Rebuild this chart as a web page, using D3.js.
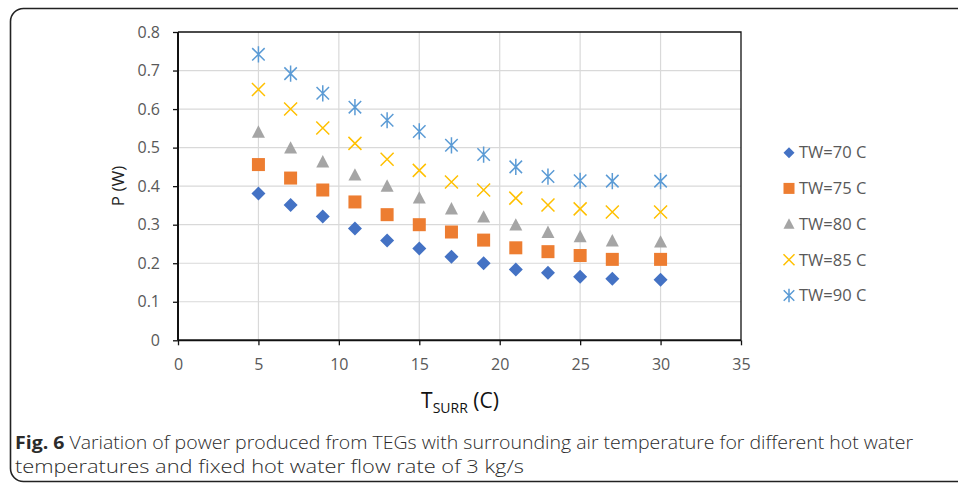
<!DOCTYPE html>
<html><head><meta charset="utf-8">
<script src="https://cdn.jsdelivr.net/npm/d3@7"></script>
<style>body{margin:0;background:#fff}svg{display:block}</style>
</head><body>
<script>
const xValues = [5,7,9,11,13,15,17,19,21,23,25,27,30];
const tw70 = [0.381,0.351,0.321,0.290,0.259,0.238,0.217,0.200,0.184,0.175,0.165,0.160,0.157];
const tw75 = [0.456,0.421,0.390,0.359,0.326,0.300,0.281,0.260,0.240,0.230,0.220,0.210,0.210];
const tw80 = [0.540,0.499,0.463,0.429,0.400,0.369,0.341,0.320,0.299,0.280,0.269,0.258,0.255];
const tw85 = [0.651,0.600,0.551,0.511,0.470,0.441,0.411,0.390,0.369,0.351,0.341,0.333,0.333];
const tw90 = [0.742,0.692,0.641,0.605,0.571,0.542,0.506,0.482,0.450,0.425,0.414,0.413,0.413];
const seriesNames = ["TW=70 C","TW=75 C","TW=80 C","TW=85 C","TW=90 C"];
const xTicks = [0,5,10,15,20,25,30,35];
const yTicks = [0,0.1,0.2,0.3,0.4,0.5,0.6,0.7,0.8];

(function(){
const series = [
  {name: seriesNames[0], values: tw70, shape: "diamond", color: "#4472C4"},
  {name: seriesNames[1], values: tw75, shape: "square", color: "#ED7D31"},
  {name: seriesNames[2], values: tw80, shape: "triangle", color: "#A5A5A5"},
  {name: seriesNames[3], values: tw85, shape: "x", color: "#FFC000"},
  {name: seriesNames[4], values: tw90, shape: "star", color: "#5B9BD5"}
];

const W = 958, H = 484;
const svg = d3.select("body").append("svg").attr("width", W).attr("height", H);
const font = "'Open Sans', 'Noto Sans', sans-serif";

// frame
svg.append("rect").attr("x", 10.5).attr("y", 8.5).attr("width", 1000).attr("height", 473)
  .attr("rx", 13).attr("fill", "none").attr("stroke", "#222").attr("stroke-width", 1.6);

const pL = 178, pR = 741, pT = 32, pB = 340.3;
const x = d3.scaleLinear().domain([0,35]).range([pL, pR]);
const y = d3.scaleLinear().domain([0,0.8]).range([pB, pT]);

// gridlines
svg.append("g").selectAll("line").data(xTicks.slice(1,-1)).join("line")
  .attr("x1", d => x(d)).attr("x2", d => x(d)).attr("y1", pT).attr("y2", pB)
  .attr("stroke", "#d9d9d9").attr("stroke-width", 1.2);
svg.append("g").selectAll("line").data(yTicks.slice(1,-1)).join("line")
  .attr("x1", pL).attr("x2", pR).attr("y1", d => y(d)).attr("y2", d => y(d))
  .attr("stroke", "#d9d9d9").attr("stroke-width", 1.2);

// plot border (top/right)
svg.append("path").attr("d", `M${pL},${pT}H${pR}V${pB}`)
  .attr("fill", "none").attr("stroke", "#111").attr("stroke-width", 1.3);

// axes
const xAxis = svg.append("g").attr("transform", `translate(0,${pB})`)
  .call(d3.axisBottom(x).tickValues(xTicks).tickSize(5).tickPadding(13).tickFormat(d3.format("d")));
const yAxis = svg.append("g").attr("transform", `translate(${pL},0)`)
  .call(d3.axisLeft(y).tickValues(yTicks).tickSize(5).tickPadding(13).tickFormat(d => d === 0 ? "0" : d3.format(".1f")(d)));
[xAxis, yAxis].forEach(a => {
  a.select(".domain").attr("stroke", "#111").attr("stroke-width", 2);
  a.selectAll(".tick line").attr("stroke", "#111").attr("stroke-width", 1.3);
  a.selectAll(".tick text").attr("fill", "#595959").style("font-family", font).style("font-size", "16px");
});
xAxis.select(".domain").attr("d", `M${pL},0H${pR}`);
yAxis.select(".domain").attr("d", `M0,${pB}V${pT}`);

// markers
function drawMarker(g, shape, color, s) {
  if (shape === "diamond") {
    const r = s*0.5;
    g.append("path").attr("d", `M0,${-r}L${r},0L0,${r}L${-r},0Z`).attr("fill", color);
  } else if (shape === "square") {
    const r = s*0.5;
    g.append("rect").attr("x", -r).attr("y", -r).attr("width", 2*r).attr("height", 2*r).attr("fill", color);
  } else if (shape === "triangle") {
    const r = s*0.5;
    g.append("path").attr("d", `M0,${-r*1.05}L${r},${r*0.85}L${-r},${r*0.85}Z`).attr("fill", color);
  } else if (shape === "x") {
    const r = s*0.5;
    g.append("path").attr("d", `M${-r},${-r}L${r},${r}M${r},${-r}L${-r},${r}`).attr("stroke", color).attr("stroke-width", 1.5).attr("fill", "none");
  } else if (shape === "star") {
    const r = s*0.48;
    g.append("path").attr("d", `M${-r},${-r}L${r},${r}M${r},${-r}L${-r},${r}M0,${-r*1.3}V${r*1.3}`).attr("stroke", color).attr("stroke-width", 1.5).attr("fill", "none");
  }
}

series.forEach(s => {
  const g = svg.append("g");
  s.values.forEach((v, i) => {
    const mg = g.append("g").attr("transform", `translate(${x(xValues[i])},${y(v)})`);
    drawMarker(mg, s.shape, s.color, s.shape === "diamond" ? 14 : 13);
  });
});

// legend
const legend = svg.append("g");
series.forEach((s, i) => {
  const ly = 152.7 + i * 35.7;
  const mg = legend.append("g").attr("transform", `translate(789,${ly})`);
  drawMarker(mg, s.shape, s.color, 11);
  legend.append("text").attr("x", 799).attr("y", ly).attr("dy", "0.35em")
    .attr("fill", "#595959").style("font-family", font).style("font-size", "16.5px").text(s.name);
});

// axis titles
svg.append("text").attr("transform", "translate(118,186) rotate(-90)").attr("text-anchor", "middle")
  .attr("dy", "0.35em").attr("fill", "#222").style("font-family", font).style("font-size", "17px").text("P (W)");
const xt = svg.append("text").attr("x", 460).attr("y", 408).attr("text-anchor", "middle")
  .attr("fill", "#111").style("font-family", font).style("font-size", "21px");
xt.append("tspan").text("T");
xt.append("tspan").attr("dy", 5).style("font-size", "14px").text("SURR");
xt.append("tspan").attr("dy", -5).text(" (C)");

// caption
const cap1 = svg.append("text").attr("x", 15).attr("y", 449).attr("fill", "#2b2b2b")
  .style("font-family", font).style("font-size", "18.5px")
  .attr("textLength", 898).attr("lengthAdjust", "spacingAndGlyphs");
cap1.append("tspan").style("font-weight", "bold").text("Fig. 6");
cap1.append("tspan").style("font-weight", "300").text(" Variation of power produced from TEGs with surrounding air temperature for different hot water");
svg.append("text").attr("x", 15).attr("y", 473).attr("fill", "#2b2b2b")
  .style("font-family", font).style("font-size", "18.5px").style("font-weight", "300")
  .attr("textLength", 509).attr("lengthAdjust", "spacingAndGlyphs")
  .text("temperatures and fixed hot water flow rate of 3 kg/s");
})();
</script>
</body></html>
